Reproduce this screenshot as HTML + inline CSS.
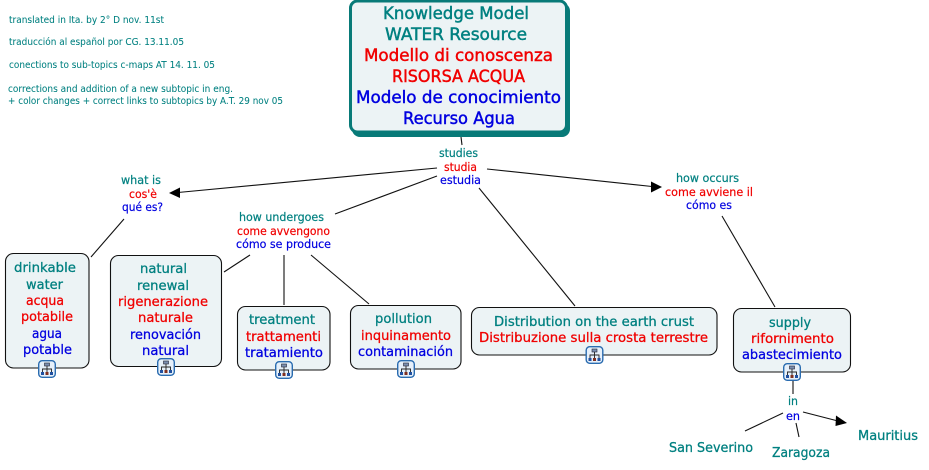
<!DOCTYPE html>
<html><head><meta charset="utf-8"><style>
html,body{margin:0;padding:0;background:#fff;width:929px;height:470px;overflow:hidden}
svg{display:block}
text{font-family:"DejaVu Sans","Liberation Sans",sans-serif;text-anchor:start}
.t{fill:#008080;stroke:#008080}.r{fill:#f00000;stroke:#f00000}.b{fill:#0000e0;stroke:#0000e0}
.s9{font-size:9.5px;stroke-width:0.05}.s11{font-size:11.5px;stroke-width:0.2}.s12{font-size:13px;stroke-width:0.28}.s16{font-size:16.5px;stroke-width:0.45}
.n{fill:#ecf3f5;stroke:#111;stroke-width:1.1}
.l{stroke:#111;stroke-width:1.1;fill:none}
</style></head><body>
<svg width="929" height="470" viewBox="0 0 929 470" xmlns="http://www.w3.org/2000/svg">
<defs>
<g id="ic">
<rect x="0.7" y="0.7" width="16.6" height="16.6" rx="3.5" fill="#e6f0fa" stroke="#2a6cb0" stroke-width="1.4"/>
<rect x="6.5" y="3" width="5" height="3" fill="#7a8fb0" stroke="#223" stroke-width="0.6"/>
<path d="M9 6V12M4.5 12V9H13.5V12" fill="none" stroke="#222" stroke-width="0.9"/>
<rect x="3" y="12" width="3" height="3" fill="#2050a0"/>
<rect x="7.5" y="12" width="3" height="3" fill="#803020"/>
<rect x="12" y="12" width="3" height="3" fill="#2050a0"/>
</g>
</defs>

<text x="9" y="23" class="t s9" textLength="155" lengthAdjust="spacingAndGlyphs">translated in Ita. by 2° D nov. 11st</text>
<text x="9" y="45" class="t s9" textLength="175" lengthAdjust="spacingAndGlyphs">traducción al español por CG. 13.11.05</text>
<text x="9" y="68" class="t s9" textLength="206" lengthAdjust="spacingAndGlyphs">conections to sub-topics c-maps AT 14. 11. 05</text>
<text x="8" y="92" class="t s9" textLength="225" lengthAdjust="spacingAndGlyphs">corrections and addition of a new subtopic in eng.</text>
<text x="8" y="104" class="t s9" textLength="275" lengthAdjust="spacingAndGlyphs">+ color changes + correct links to subtopics by A.T. 29 nov 05</text>

<!-- connectors -->
<path class="l" d="M461 137L462 145"/>
<path class="l" d="M437 168L178 192.5"/>
<path d="M169 193L180 187.5V198Z" fill="#000"/>
<path class="l" d="M437 176L335 214"/>
<path class="l" d="M479 188L575 306"/>
<path class="l" d="M487 169L652 186.5"/>
<path d="M662 187L651 181.5V192.5Z" fill="#000"/>
<path class="l" d="M722 216L775 307"/>
<path class="l" d="M124 219L91 257"/>
<path class="l" d="M250 255L224 272"/>
<path class="l" d="M284 255V305"/>
<path class="l" d="M311 255L369 304"/>
<path class="l" d="M793 381V394"/>
<path class="l" d="M783 413L745 431"/>
<path class="l" d="M796 423L799 437"/>
<path class="l" d="M803 412L838 421"/>
<path d="M847 423L836 415.5L835.5 426Z" fill="#000"/>

<!-- root -->
<rect x="352" y="3" width="218" height="134" rx="8" fill="#087a78"/>
<rect x="350.5" y="1" width="216" height="131" rx="7" fill="#ecf3f5" stroke="#087a78" stroke-width="3"/>
<text x="383" y="19" class="t s16" textLength="146" lengthAdjust="spacingAndGlyphs">Knowledge Model</text>
<text x="385" y="40" class="t s16" textLength="142" lengthAdjust="spacingAndGlyphs">WATER Resource</text>
<text x="364" y="61" class="r s16" textLength="189" lengthAdjust="spacingAndGlyphs">Modello di conoscenza</text>
<text x="392" y="82" class="r s16" textLength="133" lengthAdjust="spacingAndGlyphs">RISORSA ACQUA</text>
<text x="356" y="103" class="b s16" textLength="205" lengthAdjust="spacingAndGlyphs">Modelo de conocimiento</text>
<text x="403" y="124" class="b s16" textLength="112" lengthAdjust="spacingAndGlyphs">Recurso Agua</text>

<!-- linking phrases -->
<text x="439" y="157" class="t s11" textLength="39" lengthAdjust="spacingAndGlyphs">studies</text>
<text x="444" y="171" class="r s11" textLength="33" lengthAdjust="spacingAndGlyphs">studia</text>
<text x="440" y="184" class="b s11" textLength="41" lengthAdjust="spacingAndGlyphs">estudia</text>

<text x="121" y="184" class="t s11" textLength="40" lengthAdjust="spacingAndGlyphs">what is</text>
<text x="129" y="198" class="r s11" textLength="28" lengthAdjust="spacingAndGlyphs">cos'è</text>
<text x="122" y="211" class="b s11" textLength="41" lengthAdjust="spacingAndGlyphs">qué es?</text>

<text x="239" y="221" class="t s11" textLength="85" lengthAdjust="spacingAndGlyphs">how undergoes</text>
<text x="237" y="235" class="r s11" textLength="93" lengthAdjust="spacingAndGlyphs">come avvengono</text>
<text x="236" y="248" class="b s11" textLength="95" lengthAdjust="spacingAndGlyphs">cómo se produce</text>

<text x="676" y="182" class="t s11" textLength="63" lengthAdjust="spacingAndGlyphs">how occurs</text>
<text x="665" y="196" class="r s11" textLength="88" lengthAdjust="spacingAndGlyphs">come avviene il</text>
<text x="686" y="209" class="b s11" textLength="46" lengthAdjust="spacingAndGlyphs">cómo es</text>

<text x="788" y="405" class="t s11" textLength="10" lengthAdjust="spacingAndGlyphs">in</text>
<text x="786" y="420" class="b s11" textLength="14" lengthAdjust="spacingAndGlyphs">en</text>

<!-- nodes -->
<rect class="n" x="5.5" y="253.5" width="83.5" height="114.5" rx="8"/>
<text x="14" y="272" class="t s12" textLength="62" lengthAdjust="spacingAndGlyphs">drinkable</text>
<text x="26" y="289" class="t s12" textLength="37" lengthAdjust="spacingAndGlyphs">water</text>
<text x="26" y="305" class="r s12" textLength="38" lengthAdjust="spacingAndGlyphs">acqua</text>
<text x="21" y="321" class="r s12" textLength="52" lengthAdjust="spacingAndGlyphs">potabile</text>
<text x="32" y="338" class="b s12" textLength="30" lengthAdjust="spacingAndGlyphs">agua</text>
<text x="23" y="354" class="b s12" textLength="49" lengthAdjust="spacingAndGlyphs">potable</text>
<use href="#ic" x="38" y="360"/>

<rect class="n" x="110.5" y="255.5" width="111" height="111" rx="8"/>
<text x="140" y="273" class="t s12" textLength="47" lengthAdjust="spacingAndGlyphs">natural</text>
<text x="137" y="290" class="t s12" textLength="52" lengthAdjust="spacingAndGlyphs">renewal</text>
<text x="118" y="306" class="r s12" textLength="90" lengthAdjust="spacingAndGlyphs">rigenerazione</text>
<text x="138" y="322" class="r s12" textLength="55" lengthAdjust="spacingAndGlyphs">naturale</text>
<text x="130" y="339" class="b s12" textLength="71" lengthAdjust="spacingAndGlyphs">renovación</text>
<text x="142" y="355" class="b s12" textLength="47" lengthAdjust="spacingAndGlyphs">natural</text>
<use href="#ic" x="157" y="358"/>

<rect class="n" x="237.5" y="306.5" width="92.5" height="63.5" rx="8"/>
<text x="249" y="324" class="t s12" textLength="66" lengthAdjust="spacingAndGlyphs">treatment</text>
<text x="246" y="341" class="r s12" textLength="75" lengthAdjust="spacingAndGlyphs">trattamenti</text>
<text x="245" y="357" class="b s12" textLength="78" lengthAdjust="spacingAndGlyphs">tratamiento</text>
<use href="#ic" x="275" y="361"/>

<rect class="n" x="350.5" y="305.5" width="110.5" height="63.5" rx="8"/>
<text x="375" y="323" class="t s12" textLength="57" lengthAdjust="spacingAndGlyphs">pollution</text>
<text x="361" y="340" class="r s12" textLength="90" lengthAdjust="spacingAndGlyphs">inquinamento</text>
<text x="358" y="356" class="b s12" textLength="95" lengthAdjust="spacingAndGlyphs">contaminación</text>
<use href="#ic" x="397" y="360"/>

<rect class="n" x="471.5" y="307.5" width="245.5" height="47.5" rx="8"/>
<text x="494" y="326" class="t s12" textLength="200" lengthAdjust="spacingAndGlyphs">Distribution on the earth crust</text>
<text x="479" y="342" class="r s12" textLength="229" lengthAdjust="spacingAndGlyphs">Distribuzione sulla crosta terrestre</text>
<use href="#ic" x="585.5" y="346"/>

<rect class="n" x="733.5" y="308.5" width="117" height="63.5" rx="8"/>
<text x="769" y="327" class="t s12" textLength="42" lengthAdjust="spacingAndGlyphs">supply</text>
<text x="751" y="343" class="r s12" textLength="83" lengthAdjust="spacingAndGlyphs">rifornimento</text>
<text x="742" y="359" class="b s12" textLength="100" lengthAdjust="spacingAndGlyphs">abastecimiento</text>
<use href="#ic" x="783" y="363"/>

<text x="858" y="440" class="t s12" textLength="60" lengthAdjust="spacingAndGlyphs">Mauritius</text>
<text x="772" y="457" class="t s12" textLength="58" lengthAdjust="spacingAndGlyphs">Zaragoza</text>
<text x="669" y="452" class="t s12" textLength="84" lengthAdjust="spacingAndGlyphs">San Severino</text>
</svg>
</body></html>
